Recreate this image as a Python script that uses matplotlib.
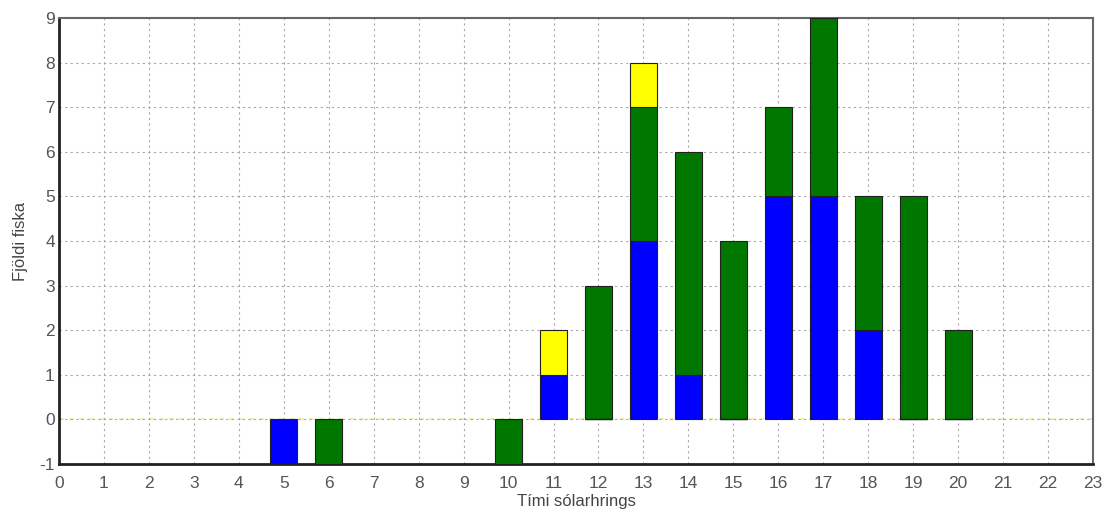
import numpy as np
import matplotlib
matplotlib.use("Agg")
import matplotlib.pyplot as plt

plt.rcParams["font.family"] = ["Liberation Sans", "DejaVu Sans"]
plt.rcParams["axes.unicode_minus"] = False

# Klukkustund og fjöldi fiska í hverjum flokki
hours  = [5, 6, 7, 8, 9, 10, 11, 12, 13, 14, 15, 16, 17, 18, 19, 20]
blue   = [-1, 0, 0, 0, 0, 0, 1, 0, 4, 1, 0, 5, 5, 2, 0, 0]
green  = [0, -1, 0, 0, 0, -1, 0, 3, 3, 5, 4, 2, 4, 3, 5, 2]
yellow = [0, 0, 0, 0, 0, 0, 1, 0, 1, 0, 0, 0, 0, 0, 0, 0]

series = [(blue, "#0000ff"), (green, "#007800"), (yellow, "#ffff00")]

fig = plt.figure(figsize=(11.08, 5.18), dpi=100)
ax = fig.add_axes([59/1108, 1 - 464/518, (1093-59)/1108, (464-18)/518])

x = np.array(hours)
pos_bottom = np.zeros(len(hours))
neg_bottom = np.zeros(len(hours))
for vals, col in series:
    v = np.array(vals, dtype=float)
    bottom = np.where(v >= 0, pos_bottom, neg_bottom)
    mask = v != 0
    ax.bar(x[mask], v[mask], bottom=bottom[mask], width=0.6, color=col,
           edgecolor="#202020", linewidth=0.8, zorder=3)
    pos_bottom += np.clip(v, 0, None)
    neg_bottom += np.clip(v, None, 0)

# bars with zero height leave a thin edge line at 0
zero = (np.array(blue) == 0) & (np.array(green) > 0)
ax.hlines(np.zeros(zero.sum()), x[zero] - 0.3, x[zero] + 0.3, color="#202020",
          linewidth=1.0, zorder=4)

ax.axhline(0, color="#eeee99", linestyle=(0, (3, 3)), linewidth=1.2, zorder=1)

ax.set_xlim(0, 23)
ax.set_ylim(-1, 9)
ax.set_xticks(range(0, 24))
ax.set_yticks(range(-1, 10))
ax.grid(True, color="#a8a8a8", linestyle=(0, (2, 3)), linewidth=0.8, zorder=0)
ax.tick_params(length=0, labelsize=12.5, labelcolor="#555555")
ax.tick_params(axis="x", pad=9)
ax.tick_params(axis="y", pad=3)

for side in ["left", "bottom"]:
    ax.spines[side].set_linewidth(2.0)
    ax.spines[side].set_color("#222222")
for side in ["top", "right"]:
    ax.spines[side].set_linewidth(1.5)
    ax.spines[side].set_color("#666666")

ax.set_xlabel("Tími sólarhrings", fontsize=12, color="#444444", labelpad=2)
ax.set_ylabel("Fjöldi fiska", fontsize=12, color="#444444", labelpad=8)

fig.savefig("out.png", dpi=100)
